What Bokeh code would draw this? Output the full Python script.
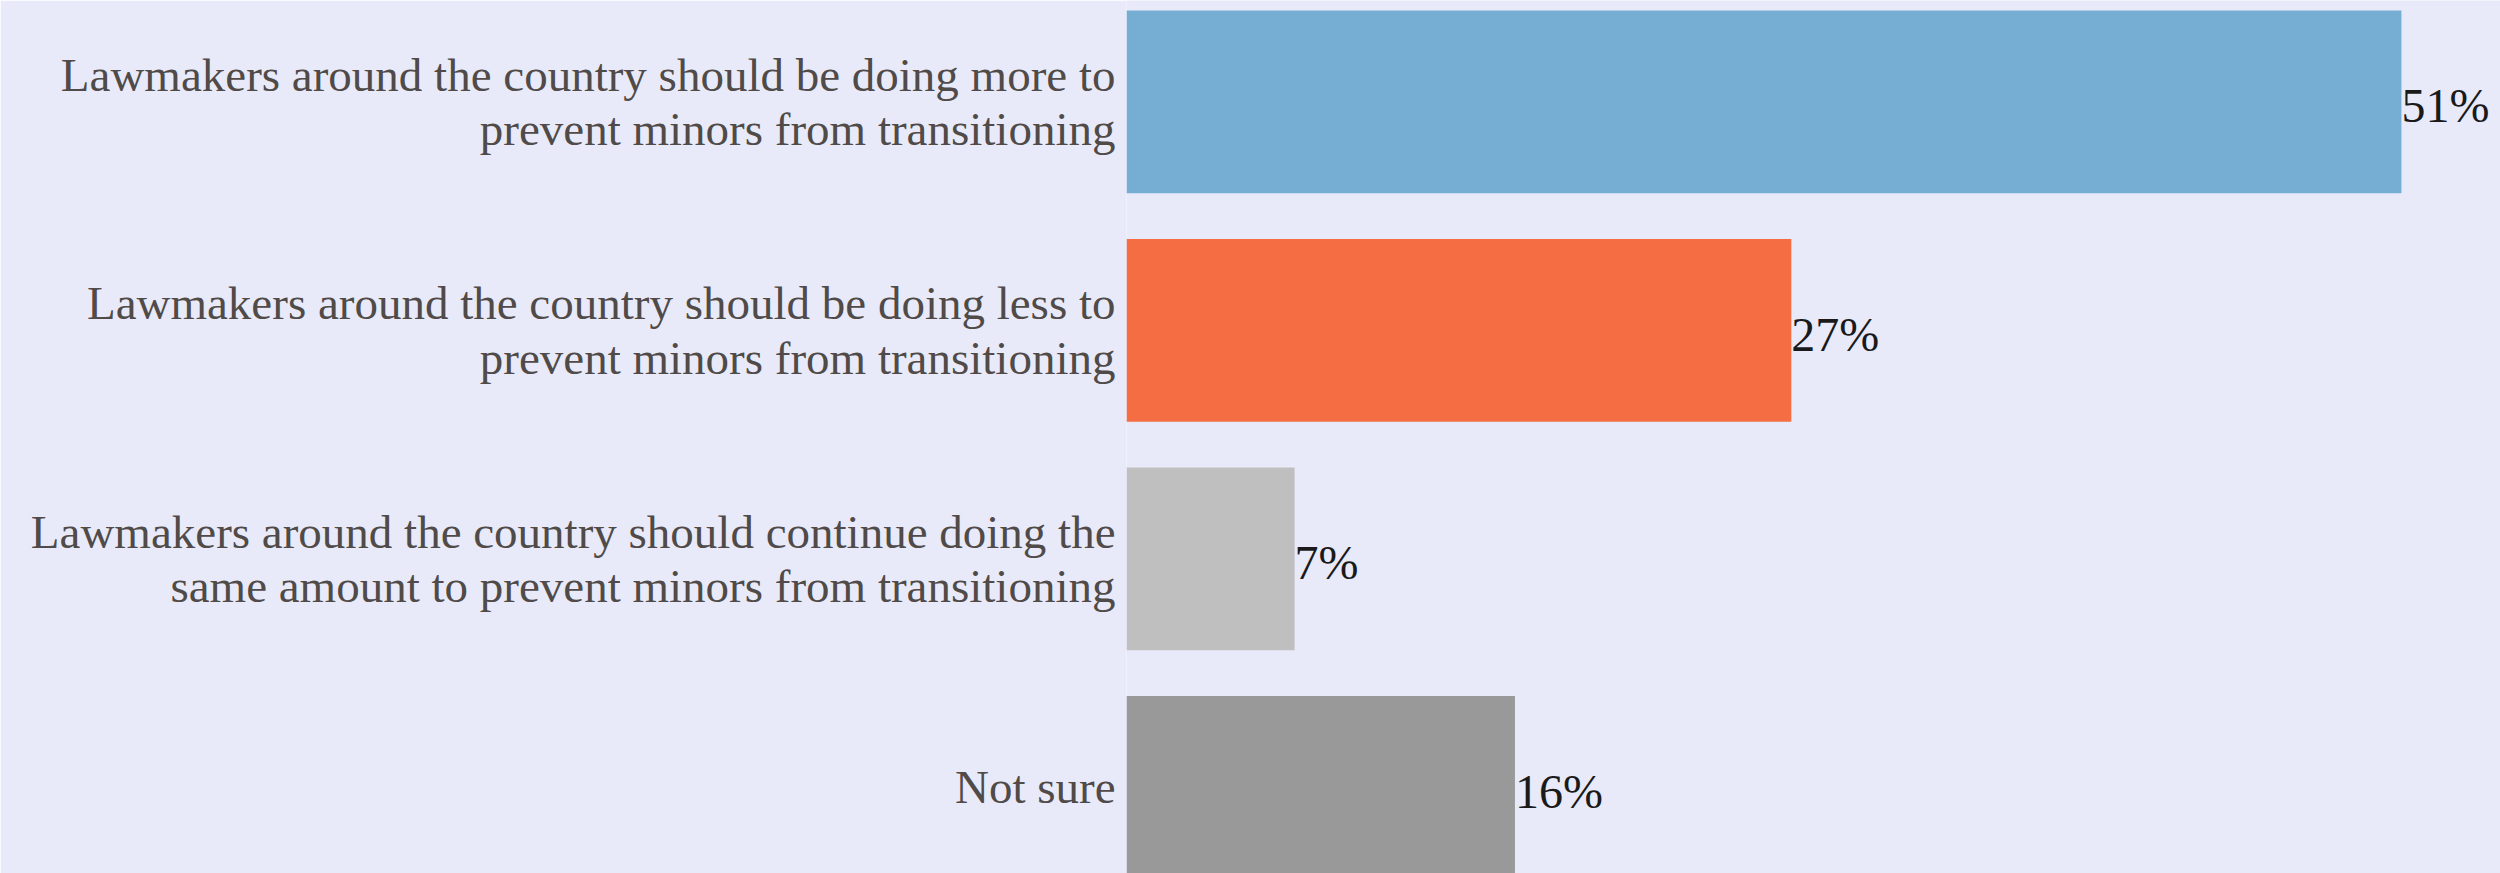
from bokeh.plotting import figure
from bokeh.models import Range1d, FixedTicker, ColumnDataSource
from bokeh.core.properties import value
from bokeh.embed import file_html
from bokeh.resources import INLINE

# ---- data ----
categories = [
    "Lawmakers around the country should be doing more to\nprevent minors from transitioning",
    "Lawmakers around the country should be doing less to\nprevent minors from transitioning",
    "Lawmakers around the country should continue doing the\nsame amount to prevent minors from transitioning",
    "Not sure",
]
# bar lengths (percent); labels as printed
values = [51.2, 26.7, 6.75, 15.6]
value_labels = ["51%", "27%", "7%", "16%"]
colors = ["#75add3", "#f46d43", "#bfbfbf", "#999999"]

n = len(categories)
positions = [n - 1 - i for i in range(n)]  # first category on top

src = ColumnDataSource(dict(y=positions, v=values, c=colors, lab=value_labels))

BG = "#e8eafa"
FONT = "Liberation Serif"

p = figure(
    width=2500, height=873,
    x_range=Range1d(0, 55.18),
    y_range=Range1d(-0.377, 3.444),
    output_backend="svg", toolbar_location=None,
    min_border_left=1126, min_border_right=0, min_border_top=0, min_border_bottom=0,
    background_fill_color=BG, border_fill_color=BG,
)
p.outline_line_color = None
p.xgrid.visible = False
p.ygrid.visible = False
p.xaxis.visible = False

p.hbar(y="y", right="v", left=0, height=0.8, color="c", line_color=None, source=src)

p.text(x="v", y="y", text="lab", source=src,
       text_align="left", text_baseline="middle", y_offset=4,
       text_font=value(FONT), text_font_size="48px", text_color="#1a1a1a")

ya = p.yaxis[0]
ya.ticker = FixedTicker(ticks=positions)
ya.major_label_overrides = {pos: cat for pos, cat in zip(positions, categories)}
ya.axis_line_color = None
ya.major_tick_line_color = None
ya.minor_tick_line_color = None
ya.major_tick_out = 0
ya.major_tick_in = 0
ya.major_label_standoff = 11
ya.major_label_text_font = FONT
ya.major_label_text_font_size = "47px"
ya.major_label_text_color = "#504a48"
ya.major_label_text_line_height = 1.05
ya.major_label_text_align = "right"

open("out.html", "w").write(file_html(p, INLINE))
